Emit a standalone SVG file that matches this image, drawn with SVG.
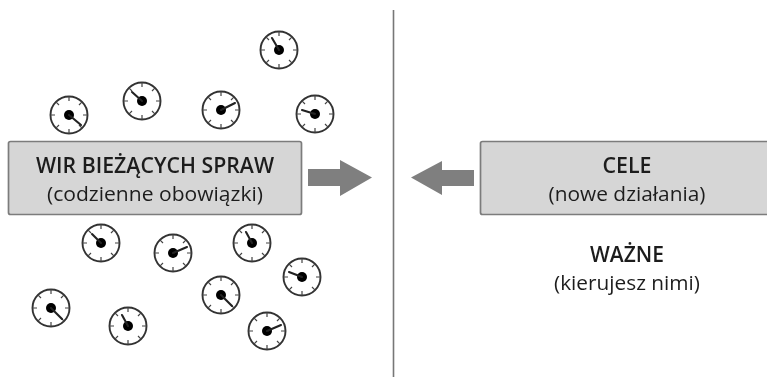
<svg xmlns="http://www.w3.org/2000/svg" xmlns:xlink="http://www.w3.org/1999/xlink" width="767" height="377" viewBox="0 0 767 377">
<style>
.ring{fill:#fff;stroke:#333;stroke-width:1.9}
.tick{stroke:#444;stroke-width:1.2;fill:none}
.dot{fill:#000}
.hand{stroke:#222;stroke-width:2.1;stroke-linecap:round;fill:none}
.box{fill:#d6d6d6;stroke:#7c7c7c;stroke-width:1.7}
.arrow{fill:#7f7f7f}
.divider{stroke:#777;stroke-width:1.6;fill:none}
text{font-family:"Open Sans","Noto Sans","Liberation Sans",sans-serif;fill:#1e1e1e;text-anchor:middle}
.b{font-size:21px;font-weight:600}
.r{font-size:20.500px;font-weight:400}
</style>
<defs>
<filter id="soft" x="-5%" y="-5%" width="110%" height="110%"><feGaussianBlur stdDeviation="0.45"/></filter>
<g id="dial">
<circle class="ring" r="18.500"/>
<path class="tick" d="M0-18.500V-14M0 18.500V14M-18.500 0H-14M18.500 0H14M13.100-13.100L10-10M13.100 13.100L10 10M-13.100-13.100L-10-10M-13.100 13.100L-10 10"/>
<circle class="dot" r="5"/>
</g>
</defs>
<g filter="url(#soft)">
<g id="connectors">
<path id="divider" class="divider" d="M393.500 10V377"/>
<path id="arrow-left-box" class="arrow" d="M308 169H340V160L372 177.500L340 196V186H308Z"/>
<path id="arrow-right-box" class="arrow" d="M474 170H442V161L411 177.500L442 195V186H474Z"/>
</g>
<g id="clock1" transform="translate(279 50)"><use xlink:href="#dial" href="#dial"/><path class="hand" d="M0 0L-7-12"/></g>
<g id="clock2" transform="translate(69 115)"><use xlink:href="#dial" href="#dial"/><path class="hand" d="M0 0L12 10"/></g>
<g id="clock3" transform="translate(142 101)"><use xlink:href="#dial" href="#dial"/><path class="hand" d="M0 0L-10-9"/></g>
<g id="clock4" transform="translate(221 110)"><use xlink:href="#dial" href="#dial"/><path class="hand" d="M0 0L14-7"/></g>
<g id="clock5" transform="translate(315 114)"><use xlink:href="#dial" href="#dial"/><path class="hand" d="M0 0L-13-4"/></g>
<g id="clock6" transform="translate(101 243)"><use xlink:href="#dial" href="#dial"/><path class="hand" d="M0 0L-9-9"/></g>
<g id="clock7" transform="translate(173 253)"><use xlink:href="#dial" href="#dial"/><path class="hand" d="M0 0L14-6"/></g>
<g id="clock8" transform="translate(252 243)"><use xlink:href="#dial" href="#dial"/><path class="hand" d="M0 0L-6-11"/></g>
<g id="clock9" transform="translate(302 277)"><use xlink:href="#dial" href="#dial"/><path class="hand" d="M0 0L-13-5"/></g>
<g id="clock10" transform="translate(221 295)"><use xlink:href="#dial" href="#dial"/><path class="hand" d="M0 0L11 11"/></g>
<g id="clock11" transform="translate(51 308)"><use xlink:href="#dial" href="#dial"/><path class="hand" d="M0 0L11 11"/></g>
<g id="clock12" transform="translate(128 326)"><use xlink:href="#dial" href="#dial"/><path class="hand" d="M0 0L-6-11"/></g>
<g id="clock13" transform="translate(267 331)"><use xlink:href="#dial" href="#dial"/><path class="hand" d="M0 0L14-6"/></g>
<g id="node-wir"><rect class="box" x="8.500" y="141.500" width="293" height="73" rx="2"/>
<text class="b" x="155" y="172.500" textLength="238" lengthAdjust="spacingAndGlyphs">WIR BIEŻĄCYCH SPRAW</text>
<text class="r" x="155" y="200.500" textLength="216" lengthAdjust="spacingAndGlyphs">(codzienne obowiązki)</text></g>
<g id="node-cele"><rect class="box" x="480.500" y="141.500" width="290" height="73" rx="2"/>
<text class="b" x="627" y="172.500" textLength="49" lengthAdjust="spacingAndGlyphs">CELE</text>
<text class="r" x="627" y="200.500" textLength="157" lengthAdjust="spacingAndGlyphs">(nowe działania)</text></g>
<g id="node-wazne">
<text class="b" x="627" y="262" textLength="74" lengthAdjust="spacingAndGlyphs">WAŻNE</text>
<text class="r" x="627" y="290" textLength="146" lengthAdjust="spacingAndGlyphs">(kierujesz nimi)</text></g>
</g>
</svg>
